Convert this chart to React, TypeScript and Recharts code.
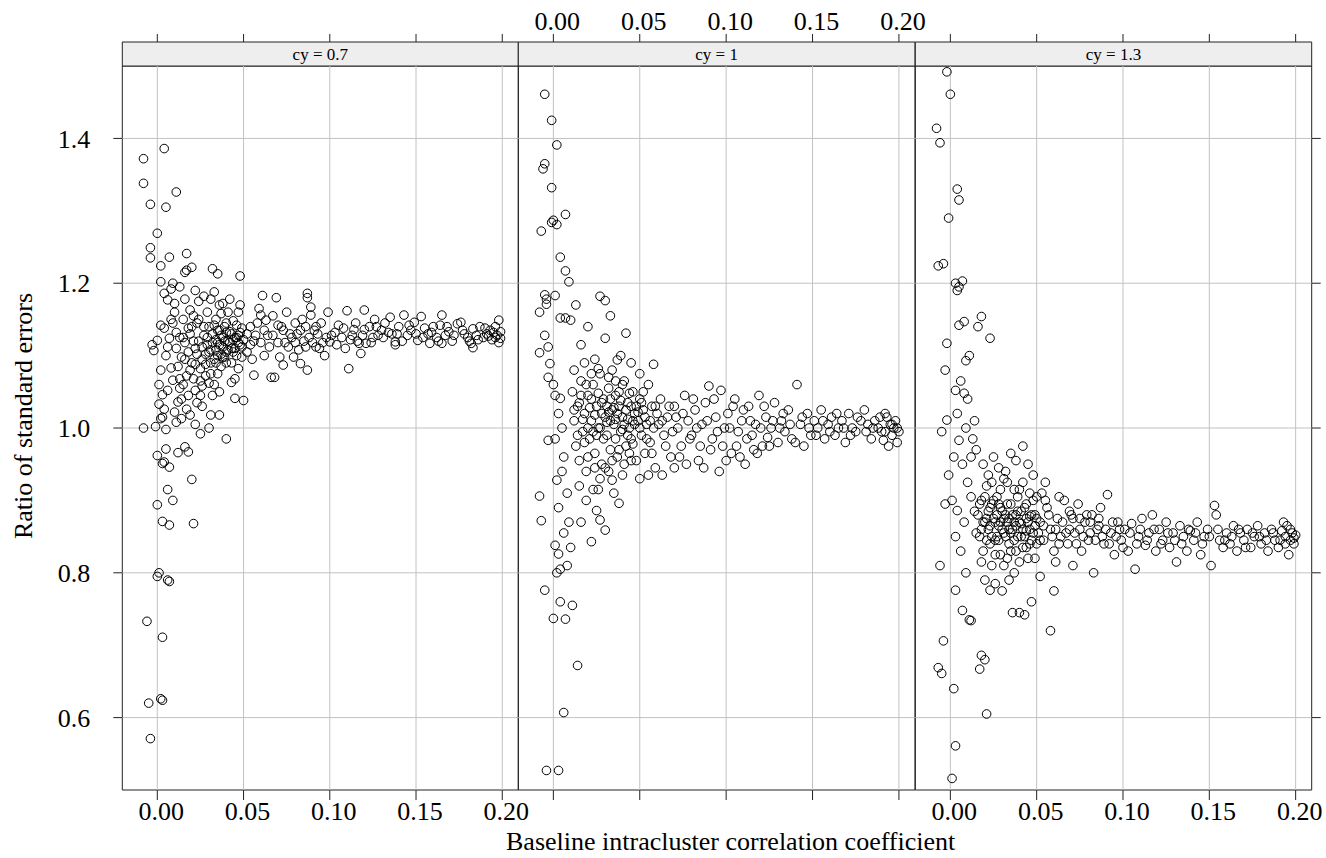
import {
  ScatterChart,
  Scatter,
  XAxis,
  YAxis,
  ReferenceLine,
  ReferenceArea,
} from "recharts";

// (x = baseline ICC, y = ratio of SEs)
const X_TICKS = [0, 0.05, 0.1, 0.15, 0.2];
const Y_TICKS = [0.6, 0.8, 1.0, 1.2, 1.4];
const PANEL_LABELS = ["cy = 0.7", "cy = 1", "cy = 1.3"];

const cy07Points: [number, number][] = [
  [-0.008, 1.372], [0.004, 1.386], [-0.008, 1.338], [0.011, 1.326], [-0.004, 1.309], [0.005, 1.305],
  [0.0, 1.269], [-0.004, 1.249], [-0.004, 1.235], [0.007, 1.236], [0.017, 1.241], [0.002, 1.224],
  [0.016, 1.215], [0.02, 1.222], [0.002, 1.202], [0.009, 1.2], [0.017, 1.218], [0.032, 1.22],
  [0.035, 1.213], [0.048, 1.21],
  [0.0, 0.894], [0.003, 0.871], [0.007, 0.866], [0.021, 0.868], [0.006, 0.915], [0.009, 0.9],
  [0.02, 0.929], [0.001, 0.8], [0.0, 0.795], [0.007, 0.788], [0.006, 0.79], [-0.006, 0.733],
  [0.003, 0.711], [-0.005, 0.62], [0.002, 0.626], [0.003, 0.624], [-0.004, 0.571],
  [0.0, 0.962], [0.005, 0.971], [0.004, 0.953], [0.007, 0.946], [0.016, 0.974], [0.018, 0.967],
  [0.012, 0.966], [0.003, 0.951],
  [-0.008, 1.0], [-0.001, 1.002], [0.005, 0.998], [0.002, 1.013], [0.003, 1.015], [0.014, 1.013],
  [0.019, 1.018], [0.025, 0.992], [0.03, 1.0], [0.04, 0.985], [0.036, 1.018], [0.031, 1.018],
  [0.022, 1.005], [0.011, 1.008],
  [-0.003, 1.115], [-0.002, 1.107], [0.0, 1.121], [0.002, 1.142], [0.004, 1.138], [0.005, 1.1],
  [0.002, 1.08], [0.001, 1.06], [0.003, 1.046], [0.006, 1.052], [0.008, 1.083], [0.007, 1.124],
  [0.009, 1.145], [0.01, 1.172], [0.006, 1.177], [0.004, 1.186], [0.008, 1.192], [0.01, 1.16],
  [0.011, 1.11], [0.009, 1.066], [0.012, 1.036], [0.004, 1.026], [0.001, 1.033], [0.01, 1.022],
  [0.013, 1.125], [0.014, 1.098], [0.015, 1.15], [0.016, 1.178], [0.017, 1.072], [0.018, 1.045],
  [0.013, 1.195], [0.019, 1.13], [0.015, 1.06], [0.018, 1.105], [0.019, 1.163], [0.02, 1.09],
  [0.017, 1.026], [0.014, 1.04], [0.012, 1.085], [0.016, 1.118], [0.02, 1.14], [0.013, 1.055],
  [0.021, 1.068], [0.022, 1.11], [0.023, 1.145], [0.024, 1.175], [0.025, 1.082], [0.026, 1.058],
  [0.027, 1.128], [0.022, 1.19], [0.028, 1.102], [0.029, 1.16], [0.023, 1.035], [0.026, 1.095],
  [0.024, 1.12], [0.028, 1.072], [0.03, 1.14], [0.021, 1.155], [0.027, 1.182], [0.025, 1.045],
  [0.029, 1.115], [0.022, 1.088], [0.03, 1.062], [0.026, 1.03],
  [0.031, 1.108], [0.032, 1.13], [0.033, 1.095], [0.034, 1.15], [0.035, 1.118], [0.036, 1.17],
  [0.037, 1.085], [0.038, 1.125], [0.039, 1.14], [0.031, 1.178], [0.033, 1.06], [0.035, 1.1],
  [0.036, 1.135], [0.038, 1.112], [0.04, 1.105], [0.032, 1.045], [0.034, 1.122], [0.037, 1.158],
  [0.039, 1.098], [0.033, 1.188], [0.04, 1.145], [0.035, 1.075], [0.038, 1.172], [0.031, 1.09],
  [0.036, 1.05],
  [0.041, 1.12], [0.042, 1.133], [0.043, 1.11], [0.044, 1.148], [0.045, 1.125], [0.046, 1.1],
  [0.047, 1.16], [0.048, 1.115], [0.049, 1.138], [0.042, 1.178], [0.043, 1.09], [0.045, 1.068],
  [0.046, 1.142], [0.047, 1.128], [0.044, 1.105], [0.048, 1.17], [0.05, 1.122], [0.041, 1.16],
  [0.049, 1.098], [0.045, 1.041], [0.05, 1.038], [0.043, 1.063], [0.047, 1.082],
  [0.015, 1.125], [0.018, 1.138], [0.021, 1.12], [0.023, 1.102], [0.024, 1.15], [0.026, 1.112],
  [0.027, 1.14], [0.029, 1.125], [0.03, 1.105], [0.032, 1.118], [0.033, 1.142], [0.034, 1.108],
  [0.035, 1.135], [0.036, 1.115], [0.037, 1.128], [0.038, 1.098], [0.039, 1.12], [0.04, 1.132],
  [0.041, 1.108], [0.042, 1.118], [0.043, 1.13], [0.044, 1.122], [0.045, 1.11], [0.046, 1.125],
  [0.047, 1.118], [0.048, 1.132], [0.049, 1.112], [0.04, 1.09], [0.037, 1.102], [0.034, 1.09],
  [0.031, 1.075], [0.028, 1.088], [0.025, 1.065], [0.022, 1.052], [0.019, 1.08], [0.016, 1.095],
  [0.013, 1.068], [0.011, 1.132], [0.008, 1.15], [0.006, 1.112],
  [0.052, 1.13], [0.054, 1.115], [0.056, 1.12], [0.056, 1.073], [0.058, 1.145], [0.06, 1.156],
  [0.061, 1.183], [0.062, 1.1], [0.063, 1.149], [0.064, 1.128], [0.066, 1.07], [0.068, 1.07],
  [0.069, 1.18], [0.07, 1.118], [0.071, 1.098], [0.072, 1.14], [0.073, 1.135], [0.073, 1.087],
  [0.075, 1.16], [0.076, 1.112], [0.078, 1.125], [0.08, 1.145], [0.081, 1.13], [0.082, 1.108],
  [0.083, 1.089], [0.084, 1.15], [0.085, 1.12], [0.087, 1.08], [0.087, 1.186], [0.087, 1.18],
  [0.089, 1.167], [0.089, 1.156], [0.09, 1.118], [0.091, 1.135], [0.093, 1.13], [0.094, 1.11],
  [0.095, 1.145], [0.097, 1.1], [0.099, 1.16], [0.1, 1.119], [0.098, 1.125], [0.055, 1.095],
  [0.059, 1.165], [0.067, 1.155], [0.079, 1.098], [0.086, 1.14], [0.092, 1.112],
  [0.052, 1.105], [0.054, 1.14], [0.057, 1.128], [0.06, 1.118], [0.062, 1.135], [0.065, 1.112],
  [0.067, 1.128], [0.07, 1.142], [0.074, 1.118], [0.077, 1.13], [0.08, 1.118], [0.083, 1.135],
  [0.086, 1.112], [0.088, 1.125], [0.092, 1.14], [0.096, 1.118],
  [0.103, 1.132], [0.105, 1.142], [0.107, 1.125], [0.109, 1.11], [0.11, 1.162], [0.111, 1.082],
  [0.113, 1.128], [0.114, 1.136], [0.116, 1.12], [0.117, 1.117], [0.118, 1.103], [0.12, 1.163],
  [0.12, 1.136], [0.121, 1.117], [0.123, 1.14], [0.125, 1.125], [0.126, 1.15], [0.128, 1.128],
  [0.13, 1.135], [0.132, 1.145], [0.135, 1.153], [0.136, 1.13], [0.138, 1.119], [0.138, 1.115],
  [0.14, 1.14], [0.143, 1.156], [0.145, 1.128], [0.147, 1.135], [0.149, 1.146], [0.151, 1.121],
  [0.153, 1.154], [0.155, 1.138], [0.157, 1.13], [0.158, 1.117], [0.16, 1.14], [0.162, 1.125],
  [0.164, 1.142], [0.165, 1.156], [0.165, 1.117], [0.167, 1.128], [0.169, 1.133], [0.171, 1.12],
  [0.174, 1.144], [0.176, 1.146], [0.178, 1.13], [0.181, 1.12], [0.182, 1.117], [0.183, 1.137],
  [0.183, 1.111], [0.185, 1.128], [0.187, 1.14], [0.189, 1.125], [0.191, 1.13], [0.193, 1.135],
  [0.195, 1.132], [0.196, 1.14], [0.198, 1.149], [0.199, 1.124], [0.197, 1.128], [0.194, 1.122],
  [0.101, 1.128], [0.104, 1.115], [0.108, 1.138], [0.112, 1.122], [0.115, 1.145], [0.119, 1.128],
  [0.124, 1.118], [0.127, 1.14], [0.131, 1.125], [0.134, 1.132], [0.139, 1.13], [0.142, 1.12],
  [0.146, 1.142], [0.15, 1.13], [0.154, 1.125], [0.159, 1.132], [0.163, 1.12], [0.168, 1.14],
  [0.172, 1.128], [0.177, 1.135], [0.18, 1.125], [0.186, 1.122], [0.19, 1.138], [0.192, 1.127],
  [0.196, 1.125], [0.199, 1.133], [0.198, 1.118],
];

const cy10Points: [number, number][] = [
  [-0.005, 1.461], [-0.001, 1.425], [0.002, 1.391], [-0.005, 1.365], [-0.006, 1.358], [-0.001, 1.332],
  [0.0, 1.287], [0.002, 1.281], [-0.001, 1.284], [0.007, 1.295], [-0.007, 1.272], [0.004, 1.236],
  [0.007, 1.217], [0.009, 1.202], [-0.005, 1.184], [-0.004, 1.178], [-0.004, 1.171], [-0.008, 1.16],
  [0.001, 1.183], [0.004, 1.152], [0.007, 1.152], [0.01, 1.149], [-0.005, 1.128], [-0.003, 1.112],
  [-0.008, 1.104], [-0.002, 1.089], [0.001, 1.045], [0.004, 1.041], [-0.003, 0.983], [0.002, 0.928],
  [-0.008, 0.906], [-0.007, 0.872], [0.001, 0.838], [0.003, 0.826], [-0.005, 0.776], [0.002, 0.8],
  [0.004, 0.805], [0.0, 0.737], [0.007, 0.736], [0.004, 0.76], [0.011, 0.755], [0.014, 0.672],
  [0.006, 0.607], [-0.004, 0.527], [0.003, 0.527],
  [-0.003, 1.07], [0.0, 1.06], [0.003, 1.02], [0.005, 1.0], [0.001, 0.985], [0.006, 0.96],
  [0.005, 0.94], [0.008, 0.91], [0.003, 0.89], [0.009, 0.87], [0.006, 0.855], [0.01, 0.835],
  [0.008, 0.81],
  [0.027, 1.182], [0.03, 1.176], [0.013, 1.17], [0.03, 1.124], [0.033, 1.155], [0.042, 1.131],
  [0.037, 1.094], [0.034, 1.08], [0.039, 1.1], [0.02, 1.14], [0.016, 1.115], [0.024, 1.095],
  [0.012, 1.08], [0.045, 1.09], [0.058, 1.088], [0.05, 1.075],
  [0.011, 1.05], [0.012, 1.01], [0.013, 0.975], [0.014, 1.03], [0.015, 0.955], [0.016, 1.065],
  [0.017, 0.995], [0.018, 1.02], [0.019, 0.94], [0.02, 1.045], [0.021, 0.985], [0.022, 1.01],
  [0.023, 1.06], [0.024, 0.965], [0.025, 1.03], [0.026, 1.0], [0.027, 1.075], [0.028, 0.95],
  [0.029, 1.04], [0.03, 1.015], [0.031, 0.99], [0.032, 1.055], [0.033, 0.97], [0.034, 1.025],
  [0.035, 1.005], [0.036, 1.045], [0.037, 0.96], [0.038, 1.03], [0.039, 0.995], [0.04, 1.015],
  [0.041, 1.065], [0.042, 0.975], [0.043, 1.035], [0.044, 1.0], [0.045, 0.985], [0.046, 1.05],
  [0.047, 1.02], [0.048, 0.955], [0.049, 1.01], [0.05, 1.04], [0.051, 0.99], [0.052, 1.025],
  [0.053, 0.965], [0.054, 1.005], [0.055, 1.06], [0.056, 0.98], [0.057, 1.03], [0.058, 1.0],
  [0.059, 0.945], [0.06, 1.02],
  [0.015, 1.035], [0.018, 0.98], [0.022, 1.04], [0.025, 0.99], [0.028, 1.02], [0.031, 1.03],
  [0.033, 1.01], [0.036, 0.985], [0.038, 1.05], [0.041, 1.005], [0.043, 0.99], [0.046, 1.01],
  [0.027, 1.0], [0.034, 0.955], [0.02, 1.0], [0.03, 0.945], [0.04, 0.935], [0.044, 0.965],
  [0.048, 1.03], [0.052, 1.05],
  [0.012, 1.025], [0.014, 0.99], [0.016, 1.045], [0.017, 1.012], [0.019, 1.06], [0.021, 1.028],
  [0.023, 0.995], [0.024, 1.018], [0.026, 1.048], [0.028, 1.035], [0.029, 0.985], [0.031, 1.008],
  [0.032, 1.022], [0.033, 1.04], [0.035, 1.028], [0.036, 1.012], [0.037, 1.02], [0.039, 1.038],
  [0.04, 0.998], [0.042, 1.025], [0.043, 1.012], [0.045, 1.03], [0.046, 0.978], [0.047, 1.005],
  [0.049, 1.022], [0.05, 1.0], [0.051, 1.035], [0.053, 1.015], [0.054, 0.985], [0.056, 1.01],
  [0.057, 0.965], [0.059, 1.03], [0.061, 1.005], [0.018, 1.09], [0.022, 1.075], [0.026, 1.082],
  [0.032, 1.07], [0.036, 1.065], [0.04, 1.06], [0.044, 1.048], [0.02, 0.96], [0.024, 0.945],
  [0.027, 0.93], [0.032, 0.94], [0.038, 0.97], [0.041, 0.95], [0.045, 0.955], [0.015, 0.92],
  [0.023, 0.915],
  [0.019, 0.9], [0.025, 0.886], [0.027, 0.873], [0.03, 0.859], [0.038, 0.896], [0.022, 0.843],
  [0.026, 0.915], [0.034, 0.928], [0.05, 0.93], [0.016, 0.87], [0.035, 0.91], [0.055, 0.935],
  [0.062, 1.04], [0.064, 0.99], [0.066, 1.015], [0.068, 0.96], [0.07, 1.03], [0.072, 1.0],
  [0.074, 0.975], [0.076, 1.045], [0.078, 1.01], [0.08, 0.99], [0.082, 1.025], [0.084, 0.955],
  [0.086, 1.005], [0.088, 1.035], [0.09, 1.058], [0.092, 0.985], [0.094, 1.015], [0.096, 0.94],
  [0.097, 1.052], [0.099, 1.0], [0.101, 1.02], [0.103, 0.965], [0.105, 1.04], [0.107, 0.995],
  [0.109, 1.01], [0.111, 0.95], [0.113, 1.03], [0.115, 0.99], [0.117, 1.005], [0.119, 1.045],
  [0.121, 0.975], [0.123, 1.015], [0.124, 0.987], [0.126, 1.0], [0.128, 1.035], [0.13, 0.98],
  [0.132, 1.01], [0.134, 0.995], [0.136, 1.025], [0.138, 0.985], [0.141, 1.06], [0.143, 1.005],
  [0.145, 0.975], [0.147, 1.02], [0.149, 0.99], [0.151, 1.01], [0.153, 1.0], [0.155, 1.025],
  [0.157, 0.985], [0.159, 1.005], [0.161, 1.015], [0.163, 0.99], [0.165, 1.0], [0.167, 1.01],
  [0.169, 0.98], [0.171, 1.02], [0.173, 1.0], [0.175, 0.995], [0.178, 1.01], [0.18, 1.025],
  [0.182, 1.005], [0.184, 0.985], [0.186, 1.01], [0.188, 1.0], [0.19, 0.995], [0.191, 0.983],
  [0.193, 1.015], [0.194, 0.975], [0.195, 1.005], [0.196, 0.99], [0.197, 1.0], [0.198, 1.01],
  [0.199, 0.98], [0.2, 0.995], [0.192, 1.02],
  [0.077, 0.95], [0.087, 0.945], [0.1, 0.955], [0.108, 0.96], [0.118, 0.965], [0.063, 0.935],
  [0.07, 0.945],
  [0.063, 1.01], [0.065, 0.975], [0.067, 1.03], [0.069, 0.995], [0.071, 1.015], [0.073, 0.96],
  [0.075, 1.02], [0.079, 0.985], [0.081, 1.04], [0.083, 1.0], [0.085, 0.975], [0.089, 1.01],
  [0.091, 0.97], [0.093, 1.04], [0.095, 0.995], [0.098, 0.975], [0.102, 1.0], [0.104, 1.03],
  [0.106, 0.975], [0.11, 1.025], [0.112, 0.985], [0.114, 1.01], [0.116, 0.97], [0.12, 1.0],
  [0.122, 1.03], [0.125, 0.975], [0.127, 1.01], [0.131, 1.0], [0.133, 1.02], [0.137, 1.005],
  [0.14, 0.98], [0.144, 1.015], [0.148, 1.0], [0.152, 0.99], [0.156, 1.01], [0.16, 0.995],
  [0.164, 1.02], [0.168, 1.0], [0.172, 0.99], [0.176, 1.015], [0.181, 0.995], [0.185, 1.0],
  [0.189, 1.015], [0.192, 0.995], [0.196, 1.005], [0.199, 1.0],
];

const cy13Points: [number, number][] = [
  [-0.002, 1.492], [0.0, 1.461], [-0.008, 1.414], [-0.006, 1.394], [0.004, 1.33], [0.005, 1.315],
  [-0.001, 1.29], [-0.007, 1.224], [-0.004, 1.227], [0.003, 1.2], [0.005, 1.195], [0.007, 1.203],
  [0.004, 1.19], [0.005, 1.142], [-0.002, 1.117], [0.008, 1.147], [0.018, 1.154], [0.016, 1.14],
  [0.023, 1.124], [0.011, 1.1], [0.009, 1.093], [-0.003, 1.08], [0.003, 1.052], [0.008, 1.048],
  [-0.002, 1.011], [0.005, 0.983], [-0.005, 0.995], [-0.001, 0.935], [0.001, 0.9], [-0.003, 0.895],
  [0.004, 0.886], [-0.006, 0.81], [0.003, 0.776], [0.007, 0.748], [-0.004, 0.706], [-0.007, 0.669],
  [-0.005, 0.661], [0.002, 0.64], [0.003, 0.561], [0.001, 0.516], [0.012, 0.734], [0.02, 0.68],
  [0.017, 0.667], [0.021, 0.605], [0.018, 0.686], [0.011, 0.735], [0.023, 0.776],
  [0.006, 1.065], [0.01, 1.04], [0.004, 1.02], [0.009, 1.0], [0.002, 0.96], [0.007, 0.95],
  [0.01, 0.925], [0.003, 0.85], [0.006, 0.83], [0.009, 0.8], [0.008, 0.87], [0.012, 0.96],
  [0.013, 0.985], [0.015, 0.97], [0.014, 1.01], [0.012, 0.905],
  [0.016, 0.88], [0.017, 0.85], [0.018, 0.9], [0.019, 0.83], [0.02, 0.87], [0.021, 0.92],
  [0.022, 0.86], [0.023, 0.89], [0.024, 0.81], [0.025, 0.875], [0.026, 0.845], [0.027, 0.905],
  [0.028, 0.865], [0.029, 0.825], [0.03, 0.885], [0.031, 0.855], [0.032, 0.94], [0.033, 0.87],
  [0.034, 0.84], [0.035, 0.895], [0.036, 0.86], [0.037, 0.8], [0.038, 0.88], [0.039, 0.85],
  [0.04, 0.915], [0.041, 0.868], [0.042, 0.835], [0.043, 0.89], [0.044, 0.858], [0.045, 0.82],
  [0.046, 0.878], [0.047, 0.845], [0.048, 0.9], [0.049, 0.865], [0.05, 0.84],
  [0.019, 0.95], [0.022, 0.935], [0.025, 0.96], [0.028, 0.945], [0.031, 0.93], [0.035, 0.965],
  [0.038, 0.955], [0.042, 0.975], [0.045, 0.95], [0.048, 0.935], [0.053, 0.91], [0.055, 0.925],
  [0.02, 0.79], [0.026, 0.785], [0.03, 0.775], [0.034, 0.79], [0.04, 0.745], [0.043, 0.742],
  [0.047, 0.76], [0.052, 0.795], [0.058, 0.72], [0.06, 0.775], [0.036, 0.745],
  [0.021, 0.875], [0.024, 0.895], [0.027, 0.85], [0.029, 0.87], [0.032, 0.88], [0.034, 0.86],
  [0.037, 0.87], [0.039, 0.885], [0.041, 0.85], [0.044, 0.875], [0.046, 0.86], [0.049, 0.88],
  [0.023, 0.84], [0.033, 0.82], [0.038, 0.83], [0.051, 0.855], [0.018, 0.86], [0.028, 0.895],
  [0.017, 0.895], [0.019, 0.87], [0.02, 0.905], [0.022, 0.885], [0.023, 0.865], [0.024, 0.85],
  [0.025, 0.9], [0.026, 0.87], [0.027, 0.88], [0.028, 0.845], [0.029, 0.89], [0.03, 0.86],
  [0.031, 0.875], [0.032, 0.85], [0.033, 0.895], [0.034, 0.875], [0.035, 0.855], [0.036, 0.88],
  [0.037, 0.845], [0.038, 0.865], [0.039, 0.905], [0.04, 0.87], [0.041, 0.885], [0.042, 0.86],
  [0.043, 0.85], [0.044, 0.895], [0.045, 0.87], [0.046, 0.84], [0.047, 0.88], [0.048, 0.855],
  [0.05, 0.875], [0.052, 0.845], [0.054, 0.865], [0.057, 0.88], [0.059, 0.85], [0.026, 0.825],
  [0.031, 0.81], [0.035, 0.83], [0.04, 0.815], [0.044, 0.835], [0.049, 0.82], [0.024, 0.925],
  [0.029, 0.915], [0.033, 0.925], [0.037, 0.915], [0.042, 0.925], [0.046, 0.91], [0.05, 0.905],
  [0.021, 0.845], [0.018, 0.815], [0.015, 0.855], [0.014, 0.885],
  [0.052, 0.87], [0.054, 0.845], [0.056, 0.89], [0.058, 0.86], [0.06, 0.83], [0.062, 0.875],
  [0.064, 0.85], [0.066, 0.9], [0.068, 0.84], [0.07, 0.88], [0.072, 0.855], [0.074, 0.895],
  [0.076, 0.83], [0.078, 0.87], [0.08, 0.845], [0.082, 0.88], [0.083, 0.8], [0.085, 0.86],
  [0.087, 0.89], [0.089, 0.84], [0.091, 0.908], [0.093, 0.855], [0.095, 0.825], [0.097, 0.87],
  [0.099, 0.845], [0.101, 0.86], [0.103, 0.83], [0.105, 0.868], [0.107, 0.805], [0.109, 0.85],
  [0.111, 0.875], [0.113, 0.838], [0.115, 0.855], [0.117, 0.88], [0.119, 0.83], [0.121, 0.86],
  [0.123, 0.845], [0.125, 0.87], [0.127, 0.835], [0.129, 0.855], [0.131, 0.815], [0.133, 0.865],
  [0.135, 0.85], [0.137, 0.83], [0.139, 0.858], [0.141, 0.845], [0.143, 0.87], [0.145, 0.825],
  [0.147, 0.85], [0.149, 0.86], [0.151, 0.81], [0.153, 0.893], [0.154, 0.88], [0.156, 0.845],
  [0.158, 0.835], [0.16, 0.855], [0.162, 0.84], [0.164, 0.865], [0.166, 0.83], [0.168, 0.855],
  [0.17, 0.845], [0.172, 0.86], [0.174, 0.835], [0.176, 0.85], [0.178, 0.865], [0.18, 0.84],
  [0.182, 0.855], [0.184, 0.83], [0.186, 0.86], [0.188, 0.845], [0.19, 0.835], [0.192, 0.858],
  [0.194, 0.85], [0.195, 0.865], [0.196, 0.825], [0.197, 0.845], [0.198, 0.855], [0.199, 0.84],
  [0.2, 0.852], [0.193, 0.87],
  [0.055, 0.9], [0.063, 0.905], [0.069, 0.885], [0.075, 0.875], [0.081, 0.87], [0.086, 0.875],
  [0.088, 0.85], [0.092, 0.84], [0.061, 0.815], [0.071, 0.81],
  [0.061, 0.86], [0.063, 0.84], [0.065, 0.87], [0.067, 0.855], [0.069, 0.86], [0.071, 0.875],
  [0.073, 0.84], [0.075, 0.86], [0.077, 0.85], [0.079, 0.88], [0.081, 0.855], [0.084, 0.845],
  [0.086, 0.865], [0.09, 0.86], [0.094, 0.87], [0.096, 0.85], [0.098, 0.86], [0.1, 0.835],
  [0.104, 0.855], [0.108, 0.84], [0.11, 0.86], [0.114, 0.845], [0.118, 0.86], [0.122, 0.84],
  [0.126, 0.855], [0.13, 0.845], [0.134, 0.84], [0.138, 0.86], [0.142, 0.855], [0.146, 0.84],
  [0.15, 0.85], [0.155, 0.86], [0.159, 0.845], [0.163, 0.85], [0.167, 0.86], [0.171, 0.835],
  [0.175, 0.855], [0.179, 0.85], [0.183, 0.845], [0.187, 0.855], [0.191, 0.845], [0.194, 0.84],
  [0.197, 0.86], [0.199, 0.848],
];

const X_DOMAIN: [number, number] = [-0.0203, 0.2093];
const STRIP_BOTTOM = 1.5;
// the top of the y domain leaves room for the strip (24px on a 724px/unit scale)
const Y_DOMAIN: [number, number] = [0.5, 1.5332];

const WIDTH = 1326;
const HEIGHT = 858;
const PLOT_TOP = 42;
const PLOT_BOTTOM = 790;
const BOTTOM_AXIS_H = 61;
const FONT = '"Liberation Serif", "Times New Roman", serif';
const INK = "#222";
const GRID = "#c2c2c2";

const tickText = { fontSize: 26, fill: "#000", fontFamily: FONT };
const noText = () => "";

function OpenCircle(props: { cx?: number; cy?: number }) {
  if (props.cx == null || props.cy == null) return <g />;
  return <circle cx={props.cx} cy={props.cy} r={4.3} fill="none" stroke="#000" strokeWidth={1} />;
}

interface PanelProps {
  points: [number, number][];
  label: string;
  left: number;
  right: number;
  leftAxis?: boolean;
  rightAxis?: boolean;
  bottomLabels?: boolean;
  topLabels?: boolean;
  xTitle?: string;
}

function Panel({ points, label, left, right, leftAxis, rightAxis, bottomLabels, topLabels, xTitle }: PanelProps) {
  const data = points.map(([x, y]) => ({ x, y }));
  return (
    <div style={{ position: "absolute", left: 0, top: 0 }}>
      <ScatterChart
        width={WIDTH}
        height={HEIGHT}
        margin={{
          top: 0,
          bottom: HEIGHT - PLOT_BOTTOM - BOTTOM_AXIS_H,
          left: leftAxis ? 0 : left,
          right: rightAxis ? 0 : WIDTH - right,
        }}
      >
        <XAxis
          xAxisId="b"
          dataKey="x"
          type="number"
          orientation="bottom"
          domain={X_DOMAIN}
          ticks={X_TICKS}
          allowDataOverflow
          height={BOTTOM_AXIS_H}
          axisLine={false}
          tickLine={{ stroke: INK }}
          tickSize={10}
          tickMargin={2}
          tick={{ ...tickText, dx: 4 }}
          tickFormatter={bottomLabels ? (v: number) => v.toFixed(2) : noText}
          label={
            xTitle
              ? { value: xTitle, position: "insideBottom", offset: 1, dx: 14, fontSize: 26, fill: "#000" }
              : undefined
          }
        />
        <XAxis
          xAxisId="t"
          dataKey="x"
          type="number"
          orientation="top"
          domain={X_DOMAIN}
          ticks={X_TICKS}
          allowDataOverflow
          height={PLOT_TOP}
          axisLine={false}
          tickLine={{ stroke: INK }}
          tickSize={8}
          tickMargin={4}
          tick={{ ...tickText, dx: 4 }}
          tickFormatter={topLabels ? (v: number) => v.toFixed(2) : noText}
        />
        <YAxis
          yAxisId="l"
          dataKey="y"
          type="number"
          domain={Y_DOMAIN}
          ticks={Y_TICKS}
          allowDataOverflow
          hide={!leftAxis}
          width={left}
          axisLine={false}
          tickLine={{ stroke: INK }}
          tickSize={9}
          tickMargin={23}
          tick={tickText}
          tickFormatter={(v: number) => v.toFixed(1)}
          label={{
            value: "Ratio of standard errors",
            angle: -90,
            position: "insideLeft",
            offset: 23,
            style: { textAnchor: "middle", fontSize: 26, fill: "#000" },
          }}
        />
        <YAxis
          yAxisId="r"
          type="number"
          orientation="right"
          domain={Y_DOMAIN}
          ticks={Y_TICKS}
          allowDataOverflow
          hide={!rightAxis}
          width={WIDTH - right}
          axisLine={false}
          tickLine={{ stroke: INK }}
          tickSize={9}
          tick={tickText}
          tickFormatter={noText}
        />
        {Y_TICKS.map((v) => (
          <ReferenceLine key={`h${v}`} xAxisId="b" yAxisId="l" y={v} stroke={GRID} strokeWidth={1} />
        ))}
        {X_TICKS.map((v) => (
          <ReferenceLine
            key={`v${v}`}
            xAxisId="b"
            yAxisId="l"
            segment={[
              { x: v, y: Y_DOMAIN[0] },
              { x: v, y: STRIP_BOTTOM },
            ]}
            stroke={GRID}
            strokeWidth={1}
          />
        ))}
        <Scatter
          data={data}
          xAxisId="b"
          yAxisId="l"
          isAnimationActive={false}
          shape={(p: any) => <OpenCircle cx={p.cx} cy={p.cy} />}
        />
        {/* same points bound to the top axis so that axis gets drawn; renders nothing */}
        <Scatter
          data={data}
          xAxisId="t"
          yAxisId="r"
          isAnimationActive={false}
          shape={() => <g />}
        />
        <ReferenceArea
          xAxisId="b"
          yAxisId="l"
          x1={X_DOMAIN[0]}
          x2={X_DOMAIN[1]}
          y1={Y_DOMAIN[0]}
          y2={STRIP_BOTTOM}
          fill="none"
          stroke={INK}
          strokeWidth={1}
        />
        <ReferenceArea
          xAxisId="b"
          yAxisId="l"
          x1={X_DOMAIN[0]}
          x2={X_DOMAIN[1]}
          y1={STRIP_BOTTOM}
          y2={Y_DOMAIN[1]}
          fill="#eeeeee"
          fillOpacity={1}
          stroke={INK}
          strokeWidth={1}
          label={{ value: label, position: "center", fontSize: 17, fill: "#000" }}
        />
      </ScatterChart>
    </div>
  );
}

export default function App() {
  return (
    <div
      style={{
        position: "absolute",
        left: 0,
        top: 0,
        width: WIDTH,
        height: HEIGHT,
        background: "#fff",
        fontFamily: FONT,
      }}
    >
      <Panel points={cy07Points} label={PANEL_LABELS[0]} left={122.3} right={518.3} leftAxis bottomLabels />
      <Panel
        points={cy10Points}
        label={PANEL_LABELS[1]}
        left={518.3}
        right={915}
        topLabels
        xTitle="Baseline intracluster correlation coefficient"
      />
      <Panel points={cy13Points} label={PANEL_LABELS[2]} left={915.3} right={1311.7} rightAxis bottomLabels />
    </div>
  );
}
